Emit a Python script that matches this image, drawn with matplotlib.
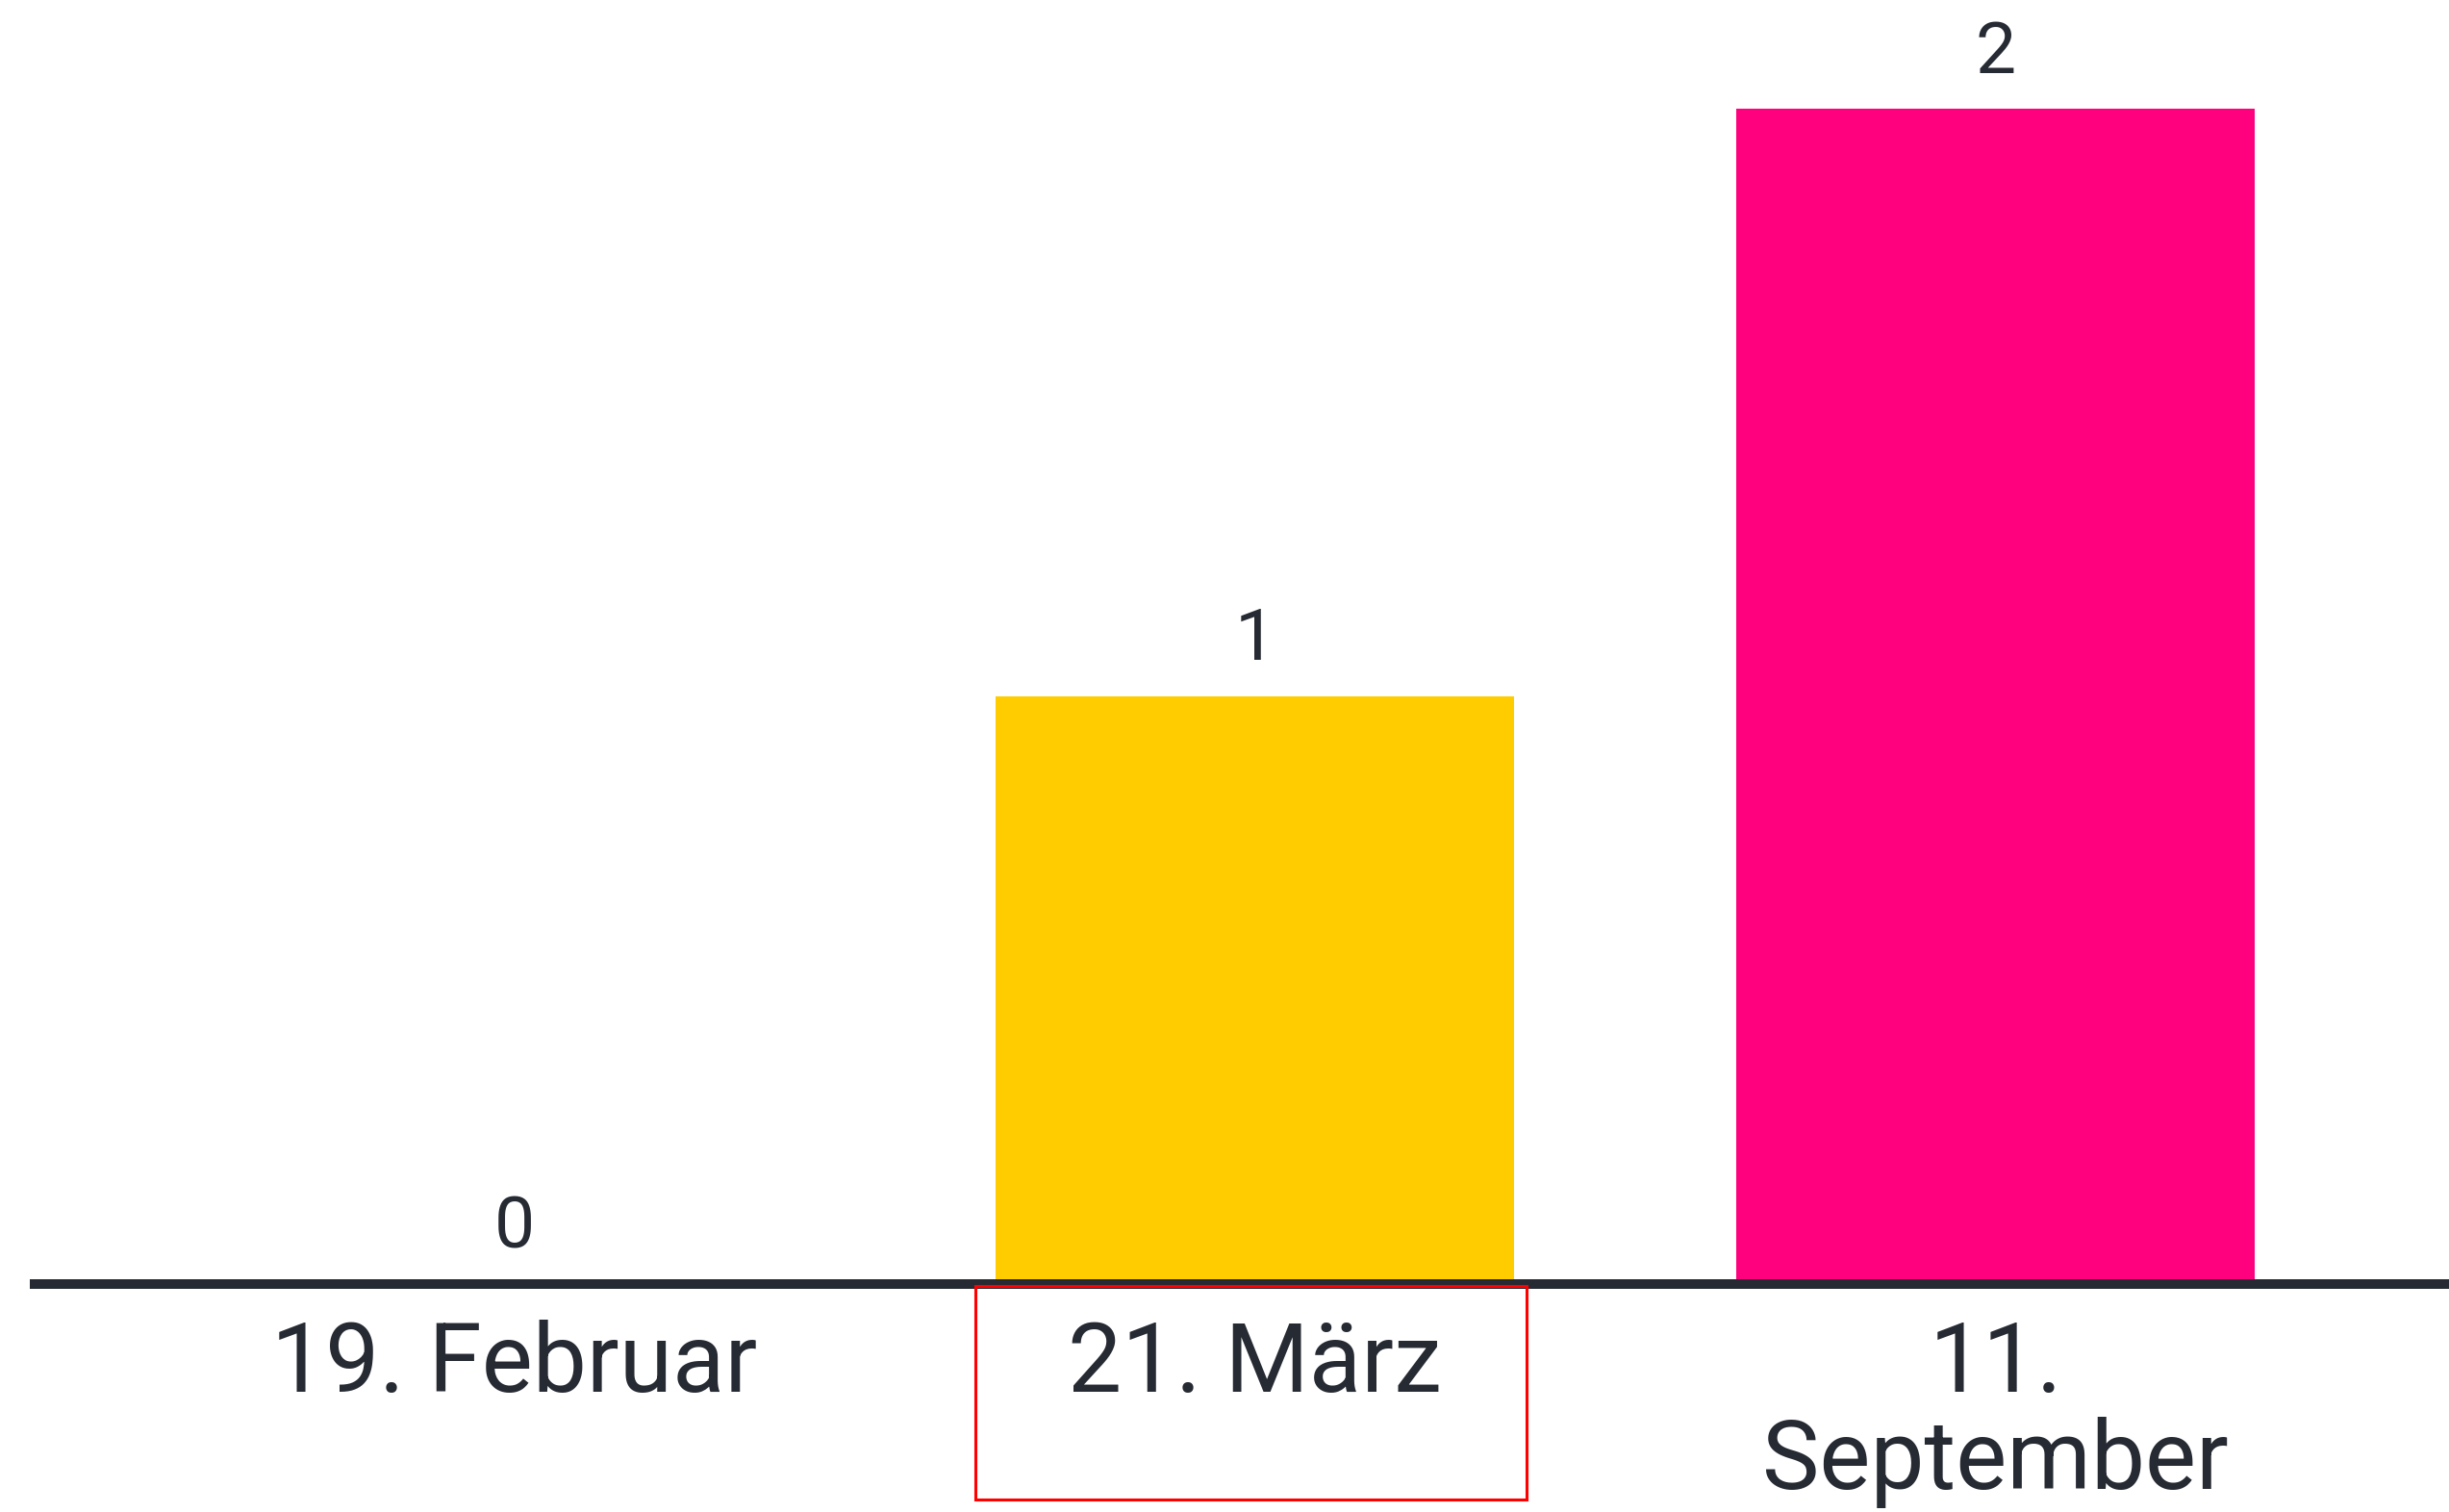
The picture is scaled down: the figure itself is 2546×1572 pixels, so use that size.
import matplotlib
matplotlib.use("Agg")
import matplotlib.pyplot as plt
import matplotlib.transforms as mtransforms
from matplotlib.patches import Rectangle

# Data
categories = ["19. Februar", "21. März", "11.\nSeptember"]
values = [0, 1, 2]
bar_colors = ["#2E6BD8", "#FFCC00", "#FF007F"]
highlight_index = 1

text_color = "#262A33"
plt.rcParams["font.family"] = ["Roboto", "DejaVu Sans"]

fig = plt.figure(figsize=(25.46, 15.72), dpi=100)
ax = fig.add_axes([0.01414, 0.1508, 0.98586, 0.8492])

x = list(range(len(categories)))
ax.bar(x, values, width=0.7, color=bar_colors, zorder=2)

ax.set_xlim(-0.648, 2.612)
ax.set_ylim(0, 2.185)

# only the baseline stays
for side in ["top", "right", "left"]:
    ax.spines[side].set_visible(False)
ax.spines["bottom"].set_color(text_color)
ax.spines["bottom"].set_linewidth(7.2)
ax.spines["bottom"].set_zorder(3)
ax.set_yticks([])
ax.set_xticks([])

# value labels
for xi, v in zip(x, values):
    ax.annotate(str(v), (xi, v), xytext=(0, 27), textcoords="offset points",
                ha="center", va="baseline", fontsize=54, color=text_color)

# category labels
for xi, cat in zip(x, categories):
    ax.annotate(cat, (xi, 0), xytext=(0, -27), textcoords="offset points",
                ha="center", va="top", fontsize=72, color=text_color,
                linespacing=1.08, annotation_clip=False)

# red selection box around the highlighted category label
trans = mtransforms.blended_transform_factory(ax.transData, fig.transFigure)
rect = Rectangle((highlight_index - 0.378, 13 / 1572), 0.745, 222 / 1572,
                 transform=trans, fill=False, edgecolor="#FF0000", linewidth=2.2,
                 clip_on=False, zorder=5)
ax.add_patch(rect)

fig.savefig("out.png", dpi=100, facecolor="white")
